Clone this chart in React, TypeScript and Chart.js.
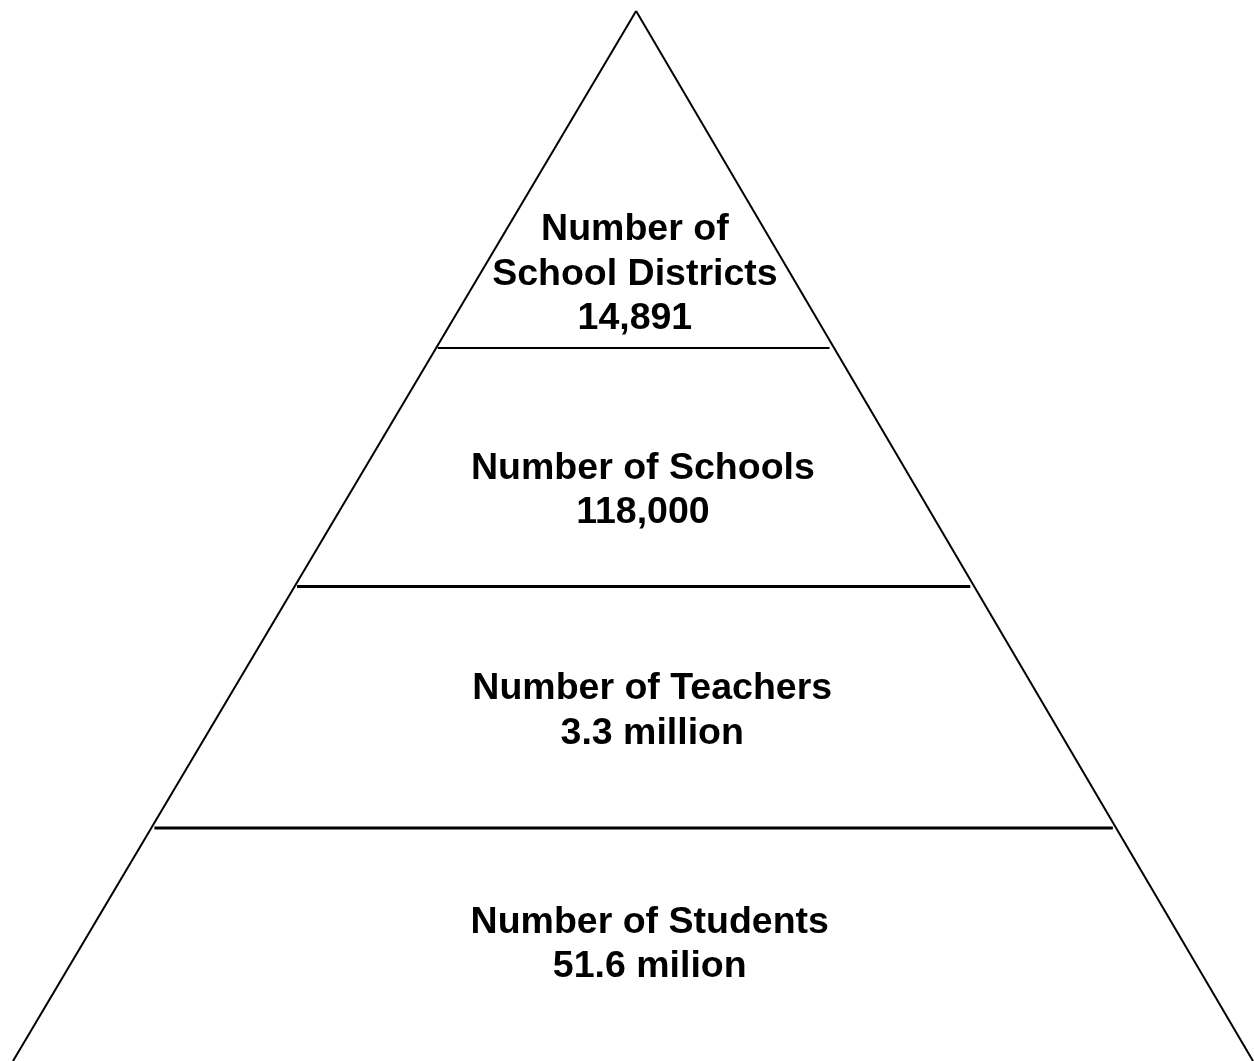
import React, { useEffect, useRef } from "react";
import { Chart, registerables } from "chart.js";

Chart.register(...registerables);

// Tier titles (top to bottom) and their values
const tierTitles: string[][] = [
  ["Number of", "School Districts"],
  ["Number of Schools"],
  ["Number of Teachers"],
  ["Number of Students"],
];
const tierValues: string[] = ["14,891", "118,000", "3.3 million", "51.6 milion"];

// Depth (0 = apex, 1 = base) of the dividing lines between tiers
const dividerDepths: number[] = [0.321, 0.548, 0.778];
const dividerWidths: number[] = [2, 3, 3];

// Label anchor (depth, horizontal offset) for each tier
const labelDepths: number[] = [0.251, 0.457, 0.667, 0.889];
const labelOffsets: number[] = [0.003, 0.016, 0.031, 0.027];

export default function App() {
  const ref = useRef<HTMLCanvasElement | null>(null);

  useEffect(() => {
    if (!ref.current) return;
    const edgeLeft = [
      { x: 0.005, y: 0 },
      { x: -1, y: 1 },
    ];
    const edgeRight = [
      { x: 0.005, y: 0 },
      { x: 1, y: 1 },
    ];
    const dividers = dividerDepths.map((d, i) => ({
      data: [
        { x: -d + 0.006, y: d },
        { x: d - 0.004, y: d },
      ],
      borderColor: "#000",
      borderWidth: dividerWidths[i],
      showLine: true,
      pointRadius: 0,
    }));

    const labelPlugin = {
      id: "tierLabels",
      afterDatasetsDraw(chart: any) {
        const ctx = chart.ctx;
        const xs = chart.scales.x;
        const ys = chart.scales.y;
        ctx.save();
        ctx.fillStyle = "#000";
        ctx.font = "bold 37.5px 'Liberation Sans', Arial, sans-serif";
        ctx.textAlign = "center";
        ctx.textBaseline = "middle";
        const lineH = 44.5;
        tierTitles.forEach((title, i) => {
          const lines = [...title, tierValues[i]];
          const cx = xs.getPixelForValue(labelOffsets[i]);
          const cy = ys.getPixelForValue(labelDepths[i]);
          const top = cy - ((lines.length - 1) * lineH) / 2;
          lines.forEach((t, j) => ctx.fillText(t, cx, top + j * lineH));
        });
        ctx.restore();
      },
    };

    const chart = new Chart(ref.current, {
      type: "scatter",
      data: {
        datasets: [
          { data: edgeLeft, borderColor: "#000", borderWidth: 2, showLine: true, pointRadius: 0 },
          { data: edgeRight, borderColor: "#000", borderWidth: 2, showLine: true, pointRadius: 0 },
          ...dividers,
        ] as any,
      },
      options: {
        animation: false,
        responsive: false,
        maintainAspectRatio: false,
        layout: { padding: 0 },
        plugins: { legend: { display: false }, tooltip: { enabled: false } },
        scales: {
          x: { type: "linear", min: -1.021, max: 1.0016, display: false },
          y: { type: "linear", min: -0.0105, max: 1.0, reverse: true, display: false },
        },
      },
      plugins: [labelPlugin],
    });
    return () => chart.destroy();
  }, []);

  return (
    <div style={{ position: "fixed", left: 0, top: 0, width: 1254, height: 1061, background: "#fff" }}>
      <canvas ref={ref} width={1254} height={1061} style={{ display: "block" }} />
    </div>
  );
}
